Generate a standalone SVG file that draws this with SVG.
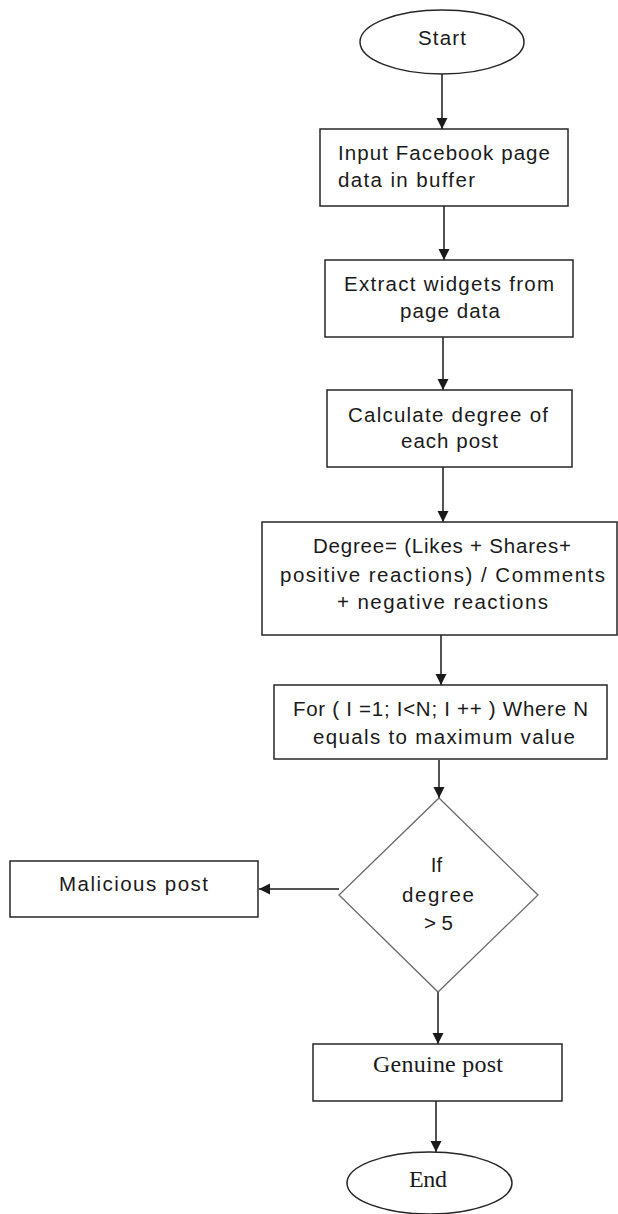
<svg xmlns="http://www.w3.org/2000/svg" width="618" height="1214" viewBox="0 0 618 1214">
  <style>
    .box { fill: #ffffff; stroke: #262626; stroke-width: 1.5; }
    .dia { fill: #ffffff; stroke: #6a6a6a; stroke-width: 1.3; }
    .t { font-family: "Liberation Sans", Arial, sans-serif; font-size: 20.5px; fill: #1a1a1a; }
    .s { font-family: "Liberation Serif", "Times New Roman", serif; font-size: 24px; fill: #1a1a1a; }
    .c { stroke: #1a1a1a; stroke-width: 1.5; fill: none; marker-end: url(#ah); }
  </style>
  <defs>
    <marker id="ah" markerUnits="userSpaceOnUse" markerWidth="12" markerHeight="12" refX="11" refY="5.5" orient="auto">
      <path d="M0,0 L11,5.5 L0,11 z" fill="#1a1a1a"/>
    </marker>
  </defs>
  <rect width="618" height="1214" fill="#ffffff"/>

  <g id="connectors">
    <line class="c" x1="442" y1="74" x2="442" y2="129"/>
    <line class="c" x1="444" y1="206" x2="444" y2="260"/>
    <line class="c" x1="443" y1="337" x2="443" y2="390"/>
    <line class="c" x1="443" y1="467" x2="443" y2="522"/>
    <line class="c" x1="441" y1="635" x2="441" y2="685"/>
    <line class="c" x1="439" y1="760" x2="439" y2="798"/>
    <line class="c" x1="339" y1="889" x2="259" y2="889"/>
    <line class="c" x1="438" y1="992" x2="438" y2="1044"/>
    <line class="c" x1="436" y1="1101" x2="436" y2="1152"/>
  </g>

  <g id="start">
    <ellipse class="box" cx="442" cy="42" rx="82" ry="32"/>
    <text class="t" x="418" y="45" textLength="48" lengthAdjust="spacing">Start</text>
  </g>

  <g id="input">
    <rect class="box" x="320" y="129" width="248" height="77"/>
    <text class="t" x="338" y="160" textLength="212" lengthAdjust="spacing">Input Facebook page</text>
    <text class="t" x="338" y="187" textLength="137" lengthAdjust="spacing">data in buffer</text>
  </g>

  <g id="extract">
    <rect class="box" x="325" y="260" width="248" height="77"/>
    <text class="t" x="344" y="291" textLength="210" lengthAdjust="spacing">Extract widgets from</text>
    <text class="t" x="400" y="318" textLength="100" lengthAdjust="spacing">page data</text>
  </g>

  <g id="calculate">
    <rect class="box" x="327" y="390" width="245" height="77"/>
    <text class="t" x="348" y="422" textLength="200" lengthAdjust="spacing">Calculate degree of</text>
    <text class="t" x="401" y="448" textLength="97" lengthAdjust="spacing">each post</text>
  </g>

  <g id="degree">
    <rect class="box" x="262" y="522" width="355" height="113"/>
    <text class="t" x="313" y="553" textLength="258" lengthAdjust="spacing">Degree= (Likes + Shares+</text>
    <text class="t" x="280" y="582" textLength="325" lengthAdjust="spacing">positive reactions) / Comments</text>
    <text class="t" x="337" y="609" textLength="211" lengthAdjust="spacing">+ negative reactions</text>
  </g>

  <g id="loop">
    <rect class="box" x="274" y="685" width="333" height="74"/>
    <text class="t" x="293" y="716" textLength="295" lengthAdjust="spacing">For ( I =1; I&lt;N; I ++ ) Where N</text>
    <text class="t" x="313" y="744" textLength="262" lengthAdjust="spacing">equals to maximum value</text>
  </g>

  <g id="decision">
    <polygon class="dia" points="439,798 538,895 438,992 339,895"/>
    <text class="t" x="436.5" y="872" text-anchor="middle">If</text>
    <text class="t" x="402" y="902" textLength="72" lengthAdjust="spacing">degree</text>
    <text class="t" x="424" y="930" textLength="29" lengthAdjust="spacing">&gt; 5</text>
  </g>

  <g id="malicious">
    <rect class="box" x="10" y="861" width="248" height="56"/>
    <text class="t" x="59" y="891" textLength="149" lengthAdjust="spacing">Malicious post</text>
  </g>

  <g id="genuine">
    <rect class="box" x="313" y="1044" width="249" height="57"/>
    <text class="s" x="373" y="1072" textLength="130" lengthAdjust="spacing">Genuine post</text>
  </g>

  <g id="end">
    <ellipse class="box" cx="429.5" cy="1183" rx="82.5" ry="31"/>
    <text class="s" x="409" y="1187" font-size="23" textLength="38" lengthAdjust="spacing">End</text>
  </g>
</svg>
